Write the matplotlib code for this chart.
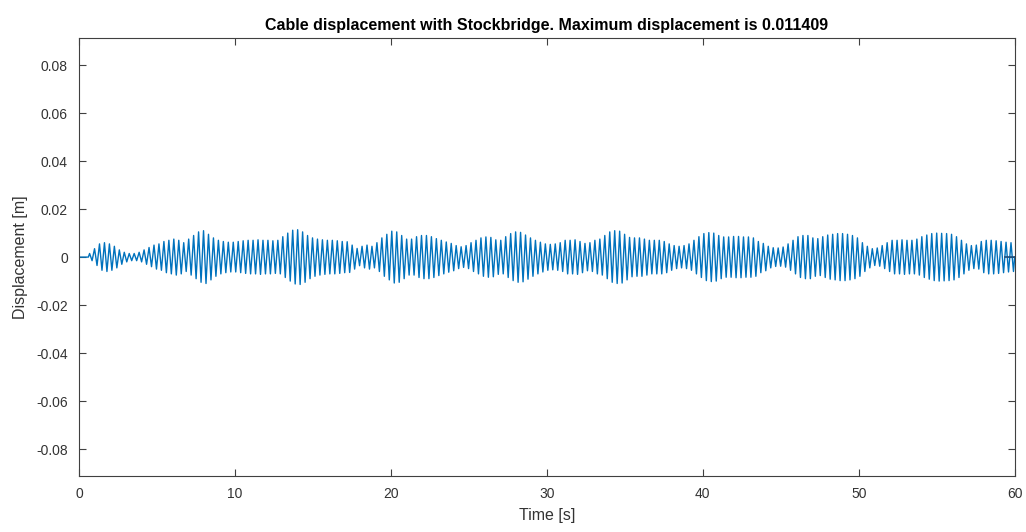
import numpy as np
import matplotlib
matplotlib.use("Agg")
import matplotlib.pyplot as plt

plt.rcParams['font.family'] = ['Liberation Sans', 'DejaVu Sans']
plt.rcParams['axes.unicode_minus'] = False

# Peak amplitude of each oscillation cycle [mm]
cycle_amp_mm = [
    1.5, 3.5,
    5.5, 6.0, 5.5,
    4.5,
    3.0, 2.0, 1.5, 1.5, 2.0,
    3.0, 4.0, 5.0, 5.5, 6.5,
    7.0, 7.5, 7.0,
    6.0,
    7.5, 9.0, 10.5, 11.0,
    9.5, 8.0, 7.0,
    6.5, 6.2, 6.2, 6.5, 6.8, 7.0, 7.0, 7.2, 7.0, 7.0, 6.8, 7.0,
    8.5, 10.0, 11.2, 11.409, 10.5,
    9.0, 8.0,
    7.5, 7.2, 7.0, 7.0, 6.8, 6.5, 6.4,
    5.0, 3.6, 4.5, 5.0, 4.5,
    6.0, 8.0, 9.5, 10.8, 10.5,
    9.0, 7.5, 7.5,
    8.5, 9.0, 9.0,
    8.5, 7.7, 7.0, 6.3, 5.7,
    4.8, 4.3, 4.8,
    6.0, 7.0, 8.0, 8.4, 8.2,
    7.2, 7.0,
    8.5, 9.8, 10.5, 10.3, 9.2,
    8.0, 7.0, 6.2,
    5.5, 5.3, 5.5, 6.0,
    7.0, 7.0, 7.2, 6.5, 5.7, 6.0, 7.0, 7.5,
    9.0, 10.5, 11.0, 10.8, 9.5,
    8.2, 8.0, 8.0, 7.5,
    7.0, 7.0, 7.0, 6.5,
    5.5, 4.8, 4.5, 4.8, 5.5,
    7.0, 8.5, 9.8, 10.2, 10.0,
    9.0, 8.4, 8.4, 8.6, 8.6, 8.4, 8.4, 8.0,
    6.5, 5.7, 4.5,
    3.9, 3.8, 4.2,
    5.5, 7.0, 8.5, 9.0,
    9.0, 8.0, 7.7, 8.5, 9.2, 9.5, 9.8, 9.8, 9.5, 9.0, 8.0,
    6.0, 4.5, 3.5, 3.8, 4.8,
    6.0, 7.0, 7.0, 7.2, 7.0, 7.0, 7.5,
    8.5, 9.2, 9.8, 10.0, 9.9, 9.8, 9.5, 8.5, 7.0,
    5.5, 4.8, 5.0,
    6.5, 7.0, 7.0, 6.8, 6.5, 6.2, 6.0,
]

t_start = 0.6      # onset of oscillation [s]
t_end = 60.0       # end of simulation [s]
tail_t = [59.4, 60.0]
tail_y = [0.0, 0.0]

amp = np.array(cycle_amp_mm) / 1000.0
n = len(amp)
period = (t_end - t_start) / n

# Alternate crest / trough of each cycle
t_pk = t_start + period * (np.arange(n) + 0.25)
t_tr = t_start + period * (np.arange(n) + 0.75)
t = np.empty(2 * n)
y = np.empty(2 * n)
t[0::2], t[1::2] = t_pk, t_tr
y[0::2], y[1::2] = amp, -amp
t = np.concatenate([[0.0, t_start], t, [t_end]])
y = np.concatenate([[0.0, 0.0], y, [0.0]])

ymax = amp.max()

fig = plt.figure(figsize=(10.26, 5.32), dpi=100)
ax = fig.add_axes([0.077, 0.105, 0.912, 0.8235])
color = '#0072BD'
ax.plot(t, y, color=color, lw=1.0)
ax.plot(tail_t, tail_y, color='#1f4e7a', lw=1.2)

ax.set_xlim(0, 60)
ax.set_ylim(-8 * ymax, 8 * ymax)
ax.set_xticks(np.arange(0, 61, 10))
ax.set_yticks([-0.08, -0.06, -0.04, -0.02, 0, 0.02, 0.04, 0.06, 0.08])
ax.set_yticklabels(['-0.08', '-0.06', '-0.04', '-0.02', '0', '0.02', '0.04', '0.06', '0.08'])

gray = '#333333'
for s in ax.spines.values():
    s.set_color('#404040')
    s.set_linewidth(0.8)
ax.tick_params(direction='in', top=True, right=True, length=5, width=0.8,
               colors='#404040', labelcolor=gray, labelsize=10, pad=8)
ax.set_xlabel('Time [s]', fontsize=11.5, color=gray, labelpad=5)
ax.set_ylabel('Displacement [m]', fontsize=11.5, color=gray, labelpad=6)
ax.set_title('Cable displacement with Stockbridge. Maximum displacement is %.6f' % ymax,
             fontsize=11.5, fontweight='bold', color='black', pad=6)

fig.savefig('out.png', dpi=100)
